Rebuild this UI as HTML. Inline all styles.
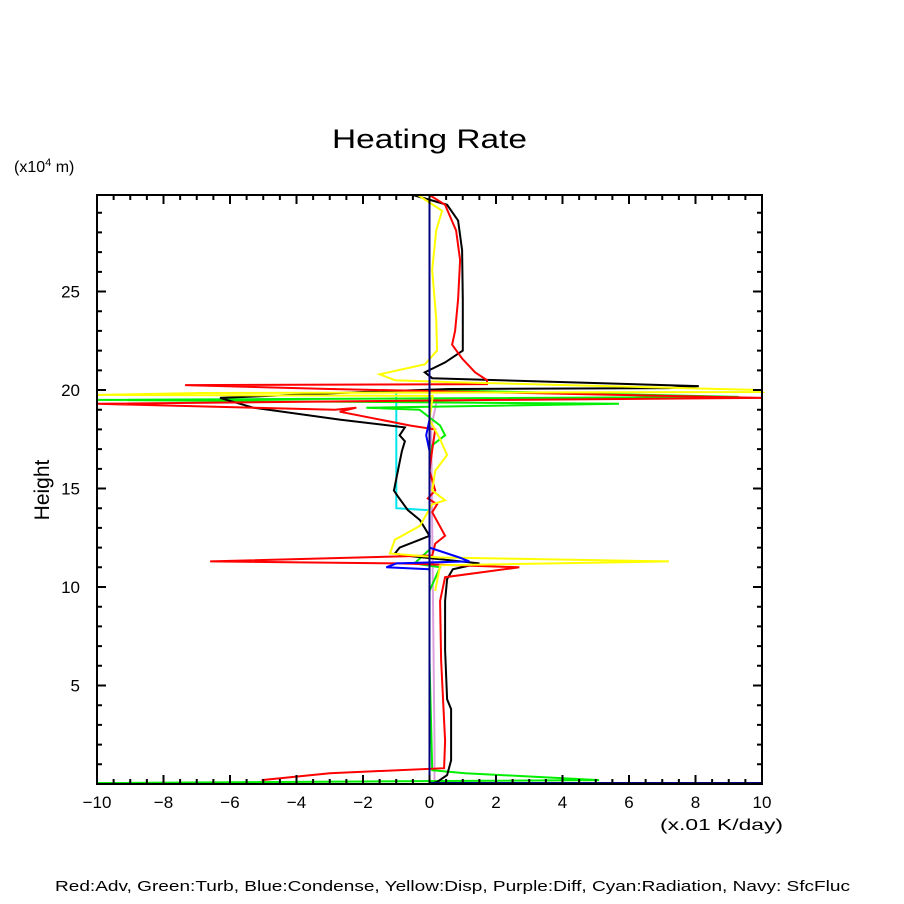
<!DOCTYPE html>
<html><head><meta charset="utf-8"><style>
html,body{margin:0;padding:0;background:#fff;}
svg{display:block;font-family:"Liberation Sans",sans-serif;}
</style></head><body>
<svg id="chart" width="904" height="904" viewBox="0 0 904 904">
<rect x="0" y="0" width="904" height="904" fill="#fff"/>
<text x="332" y="148" font-size="27" textLength="195" lengthAdjust="spacingAndGlyphs">Heating Rate</text>
<text x="14" y="172" font-size="16">(x10<tspan dy="-6" font-size="11">4</tspan><tspan dy="6"> m)</tspan></text>
<text transform="translate(49,490) rotate(-90)" font-size="21" text-anchor="middle">Height</text>
<text x="660" y="830" font-size="16" textLength="123" lengthAdjust="spacingAndGlyphs">(x.01 K/day)</text>
<text x="55" y="891" font-size="15" textLength="795" lengthAdjust="spacingAndGlyphs">Red:Adv, Green:Turb, Blue:Condense, Yellow:Disp, Purple:Diff, Cyan:Radiation, Navy: SfcFluc</text>
<g id="series"></g>
<g id="axes"></g>
</svg>
<script>
const xTicks=[-10,-8,-6,-4,-2,0,2,4,6,8,10];
const yTicks=[5,10,15,20,25];
const blackX=[-0.5,0.53,0.86,0.98,1.0,1.0,0.47,-0.14,0.08,8.1,7.2,0.6,-2.0,-6.3,-5.3,-2.7,-0.74,-0.9,-0.74,-0.83,-0.95,-1.07,-0.95,-0.65,-0.29,0.0,-0.29,-0.9,-1.04,-0.74,1.5,0.7,0.53,0.47,0.47,0.53,0.65,0.65,0.53,0.23,0];
const blackH=[29.9,29.4,28.6,27.1,24.6,22.0,21.4,20.9,20.6,20.2,20.1,20.05,19.9,19.6,19.1,18.5,18.1,17.7,17.4,16.9,15.9,14.9,14.6,13.9,13.4,12.6,12.4,12.0,11.7,11.6,11.2,10.9,10.4,9.3,6.8,4.3,3.8,1.2,0.45,0.1,0];
const redX=[0.0,0.47,0.8,0.92,0.86,0.77,0.68,0.98,1.37,1.73,1.73,-7.35,-3.0,10,2.1,-10,-2.85,-2.2,-2.7,-0.59,0.17,0.08,0,0.17,-0.05,0.23,0.08,0.47,0.17,0.08,-6.6,-0.9,2.7,0.47,0.32,0.35,0.47,0.44,-3.0,-5.05];
const redH=[29.9,29.4,28.1,26.6,24.6,23.0,22.3,21.6,20.9,20.5,20.3,20.25,20.05,19.6,19.5,19.3,19.0,19.1,18.9,18.2,18.0,16.95,15.9,14.9,14.5,14.2,13.8,12.6,12.2,11.6,11.3,11.2,11.0,10.5,9.3,6.3,2.2,0.8,0.55,0.2];
const yellowX=[-0.35,0.38,0.2,0.08,0.2,0.23,-0.14,-1.5,-1.04,0.6,9.9,10,-6.9,-10,0.1,0,0.32,0.53,0.17,0.08,0.47,0.08,-0.29,-1.04,-1.19,0.3,7.2,0.32,0.17];
const yellowH=[29.9,29.1,28.1,26.1,23.6,22.0,21.3,20.8,20.5,20.4,20.0,19.9,19.85,19.75,19.7,18.5,17.5,16.7,15.9,14.9,14.4,14.2,13.1,12.4,11.7,11.5,11.3,11.1,9.8];
const greenX=[0,9.3,-10,5.7,-1.9,-0.3,0.32,0.47,0.08,0,0,-0.45,0.32,0,0,0.08,1.07,5.1,-10];
const greenH=[20.0,19.65,19.5,19.3,19.1,19.0,18.2,17.7,17.2,15.9,11.9,11.2,11.0,9.8,6.3,0.7,0.55,0.2,0.05];
const blueX=[0,-0.1,0,0,0.9,1.2,-1.0,-1.3,0];
const blueH=[18.5,17.7,16.9,12.0,11.5,11.3,11.2,11.0,10.9];
const purpleX=[0.07,0.23,0.1,0.05,0.15,0.15];
const purpleH=[19.6,19.5,18.5,18.0,2.0,0];
const cyanX=[0,-1.0,-1.0,0];
const cyanH=[20.0,19.9,14.0,13.9];
const navyX=[0,0,10];
const navyH=[29.9,0.05,0.05];

const L=97,R=762,T=195,B=784,XMIN=-10,XMAX=10,YMIN=0,YMAX=29.9;
function sx(v){return L+(v-XMIN)/(XMAX-XMIN)*(R-L);}
function sy(v){return B-(v-YMIN)/(YMAX-YMIN)*(B-T);}
const NS='http://www.w3.org/2000/svg';
const sg=document.getElementById('series');
const ag=document.getElementById('axes');
function addLine(xs,hs,color,name){
  const p=document.createElementNS(NS,'polyline');
  p.setAttribute('points',xs.map((v,i)=>sx(v).toFixed(1)+','+sy(hs[i]).toFixed(1)).join(' '));
  p.setAttribute('fill','none');p.setAttribute('stroke',color);p.setAttribute('stroke-width','2');
  
  
  sg.appendChild(p);
}
addLine(purpleX,purpleH,'#dda0dd','line-diff');
addLine(cyanX,cyanH,'#00e5ee','line-radiation');
addLine(greenX,greenH,'#00ee00','line-turb');
addLine(blackX,blackH,'#000000','line-total');
addLine(redX,redH,'#ff0000','line-adv');
addLine(yellowX,yellowH,'#ffff00','line-disp');
addLine(blueX,blueH,'#0000ff','line-condense');
addLine(navyX,navyH,'#000080','line-sfcfluc');

function mk(tag,attrs){const e=document.createElementNS(NS,tag);for(const k in attrs)e.setAttribute(k,attrs[k]);return e;}
const frame=mk('rect',{x:L,y:T,width:R-L,height:B-T,fill:'none',stroke:'#000','stroke-width':2});


ag.appendChild(frame);
let d='';
for(let v=XMIN;v<=XMAX+1e-9;v+=0.5){const x=sx(v);const major=Math.abs(v%2)<1e-9;const len=major?9:5;d+=`M${x},${B}v${-len}M${x},${T}v${len}`;}
for(let v=1;v<YMAX;v+=1){const y=sy(v);const major=v%5===0;const len=major?9:5;d+=`M${L},${y}h${len}M${R},${y}h${-len}`;}
const ticks=mk('path',{d:d,stroke:'#000','stroke-width':2,fill:'none'});


ag.appendChild(ticks);
xTicks.forEach(v=>{
  const t=mk('text',{x:sx(v),y:808,'font-size':17,'text-anchor':'middle'});
  t.textContent=(v<0?'\u2212'+(-v):String(v));
  
  
  ag.appendChild(t);
});
yTicks.forEach(v=>{
  const t=mk('text',{x:80,y:sy(v)+6,'font-size':17,'text-anchor':'end'});
  t.textContent=String(v);
  
  
  ag.appendChild(t);
});
</script>
</body></html>
